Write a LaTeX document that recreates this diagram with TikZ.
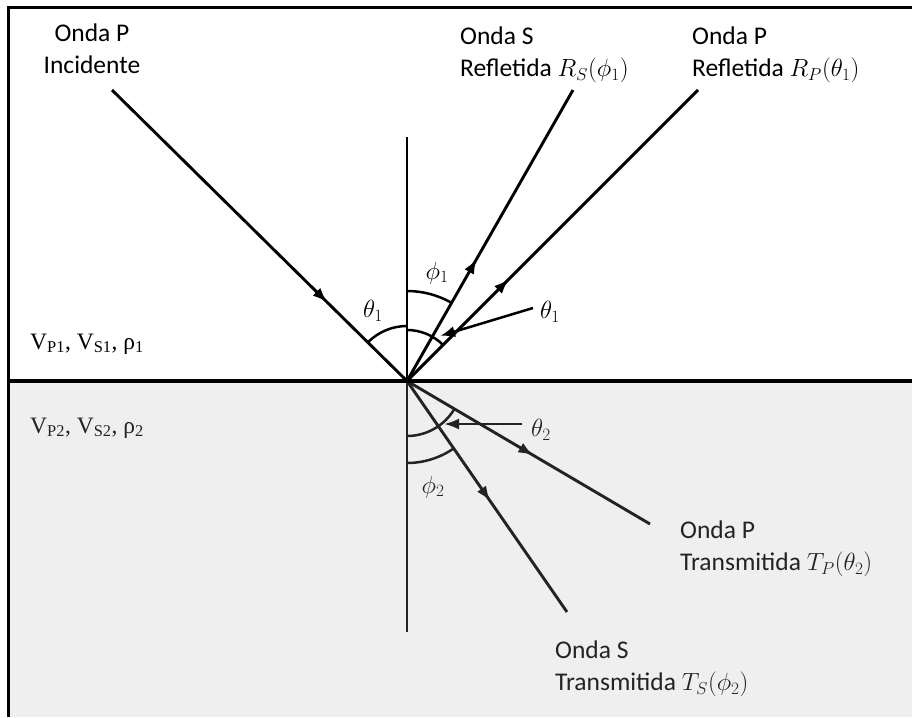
\documentclass[tikz,border=0pt]{standalone}
\usepackage{fontspec}
\setmainfont{Carlito}
\newfontfamily\seriffont{Liberation Serif}
\usetikzlibrary{arrows.meta,decorations.markings,calc}
\tikzset{
  ray/.style={line width=2.9pt},
  midarrow/.style={postaction={decorate},decoration={markings,mark=at position #1 with {\arrow{Latex[length=15pt,width=11pt]}}}},
  pointer/.style={line width=2.5pt,-{Latex[length=15pt,width=11pt]}},
  anglearc/.style={line width=2.5pt},
  anglelbl/.style={font=\fontsize{25}{28}\selectfont, inner sep=0pt},
  wavelbl/.style={font=\fontsize{25.5}{32}\selectfont, align=left, inner sep=0pt, anchor=north west},
  medium/.style={font=\seriffont\fontsize{23.5}{26}\selectfont, inner sep=0pt, anchor=base west},
}
\begin{document}
\begin{tikzpicture}[x=1pt,y=1pt]
\useasboundingbox (0,0) rectangle (912,-717);
\fill[white] (0,0) rectangle (912,-717);
% key points
\coordinate (O) at (407,-381);
\coordinate (inc) at (112,-90);
\coordinate (rs) at (573,-90);
\coordinate (rp) at (698,-90);
\coordinate (tp) at (650,-524);
\coordinate (ts) at (567,-612);
\coordinate (ntop) at (407,-137);
\coordinate (nbot) at (407,-632);
% normal
\draw[ray] (ntop) -- (nbot);
% rays
\draw[ray, midarrow=0.73] (inc) -- (O);
\draw[ray, midarrow=0.42] (O) -- (rs);
\draw[ray, midarrow=0.35] (O) -- (rp);
\draw[ray, midarrow=0.52] (O) -- (tp);
\draw[ray, midarrow=0.52] (O) -- (ts);
% angle arcs
\draw[anglearc] ($(O)+(135:55)$) arc[start angle=135,end angle=90,radius=55];
\draw[anglearc] ($(O)+(90:51)$) arc[start angle=90,end angle=45,radius=51];
\draw[anglearc] ($(O)+(90:90)$) arc[start angle=90,end angle=60.3,radius=90];
\draw[anglearc] ($(O)+(-90:55)$) arc[start angle=-90,end angle=-30.5,radius=55];
\draw[anglearc] ($(O)+(-90:82)$) arc[start angle=-90,end angle=-55.3,radius=82];
% angle labels
\node[anglelbl] (th1a) at (373,-311) {$\theta_1$};
\node[anglelbl] (ph1) at (437,-273) {$\phi_1$};
\node[anglelbl] (th1b) at (550,-312) {$\theta_1$};
\node[anglelbl] (th2) at (541,-430) {$\theta_2$};
\node[anglelbl] (ph2) at (433,-487) {$\phi_2$};
% pointers
\coordinate (p1tail) at (533,-308);
\coordinate (p1tip) at (440,-336);
\draw[pointer] (p1tail) -- (p1tip);
\coordinate (p2tail) at (522,-424);
\coordinate (p2tip) at (444,-424);
\draw[pointer] (p2tail) -- (p2tip);
% wave labels
\node[wavelbl, align=center, anchor=north] (linc) at (92,-24) {Onda P\\Incidente};
\node[wavelbl] (lrs) at (460,-27) {Onda S\\Refletida $R_S(\phi_1)$};
\node[wavelbl] (lrp) at (692,-27) {Onda P\\Refletida $R_P(\theta_1)$};
\node[wavelbl] (ltp) at (680,-521) {Onda P\\Transmitida $T_P(\theta_2)$};
\node[wavelbl] (lts) at (555,-641) {Onda S\\Transmitida $T_S(\phi_2)$};
% media
\node[medium] (m1) at (30,-349) {V\textsubscript{P1}, V\textsubscript{S1}, ρ\textsubscript{1}};
\node[medium] (m2) at (30,-433) {V\textsubscript{P2}, V\textsubscript{S2}, ρ\textsubscript{2}};
% lower medium tint
\fill[fill={rgb,255:red,175;green,175;blue,175}, fill opacity=0.2] (9,-382) rectangle (912,-717);
% interface and frame
\coordinate (ifl) at (9,-381);
\coordinate (ifr) at (912,-381);
\draw[line width=3.2pt] (ifl) -- (ifr);
\coordinate (fbl) at (8.5,-717);
\coordinate (ftl) at (8.5,-7.5);
\coordinate (ftr) at (912,-7.5);
\draw[line width=2.4pt] (fbl) -- (ftl) -- (ftr);
\end{tikzpicture}
\end{document}
